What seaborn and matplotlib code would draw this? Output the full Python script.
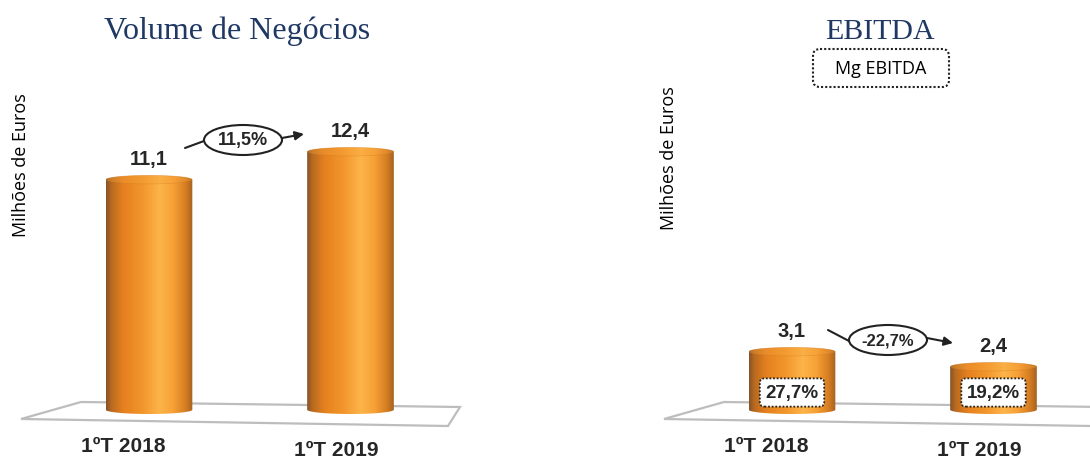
import numpy as np
import pandas as pd
import matplotlib
matplotlib.use("Agg")
import matplotlib.pyplot as plt
import seaborn as sns
from matplotlib.patches import Ellipse, FancyBboxPatch, Polygon, PathPatch, FancyArrowPatch, Rectangle
from matplotlib.path import Path
from matplotlib.lines import Line2D
from matplotlib.colors import LinearSegmentedColormap
from matplotlib.transforms import Affine2D

# ---------------- data ----------------
categories = ["1ºT 2018", "1ºT 2019"]
volume = [11.1, 12.4]
ebitda = [3.1, 2.4]
volume_labels = ["11,1", "12,4"]
ebitda_labels = ["3,1", "2,4"]
volume_change = "11,5%"
ebitda_change = "-22,7%"
ebitda_margin = ["27,7%", "19,2%"]
titles = ["Volume de Negócios", "EBITDA"]
y_label = "Milhões de Euros"
legend_label = "Mg EBITDA"

# ---------------- layout ----------------
W, H = 1090, 460
sns.set_theme(style="white")
plt.rcParams["font.family"] = ["Liberation Sans", "DejaVu Sans"]

fig = plt.figure(figsize=(W / 100, H / 100), dpi=100)
# pixel transform (origin top-left)
T = Affine2D().scale(1 / 100, -1 / 100).translate(0, H / 100) + fig.dpi_scale_trans

PX_X = 201.5      # pixels per category step
PX_Y = 21.5       # pixels per million euros
ZERO = 415        # pixel row of value 0
XL = (-0.7, 1.6)
YL = ((ZERO - H) / PX_Y, ZERO / PX_Y)
BAR_W = 0.43

cmap = LinearSegmentedColormap.from_list(
    "cyl",
    [(0.0, "#85522a"), (0.06, "#b86a20"), (0.2, "#e5811f"), (0.42, "#f2962c"),
     (0.62, "#fdb44a"), (0.78, "#f6a035"), (0.92, "#d57c22"), (1.0, "#a4621f")],
)
grad = np.linspace(0, 1, 256).reshape(1, -1)

TXT = "#262626"
NAVY = "#1f3864"


def make_ax(first_center_px):
    left = first_center_px + XL[0] * PX_X
    ax = fig.add_axes([left / W, 0, (XL[1] - XL[0]) * PX_X / W, 1])
    return ax


def cylinders(ax, bars):
    e = 0.2
    for p in bars:
        x0, w, h = p.get_x(), p.get_width(), p.get_height()
        p.set_alpha(0)
        xc = x0 + w / 2
        t_top = np.linspace(np.pi, 0, 60)
        t_bot = np.linspace(0, -np.pi, 60)
        top = np.c_[xc + w / 2 * np.cos(t_top), h - e + e * np.sin(t_top)]
        bot = np.c_[xc + w / 2 * np.cos(t_bot), e + e * np.sin(t_bot)]
        verts = np.vstack([top, bot, top[:1]])
        clip = PathPatch(Path(verts), transform=ax.transData, fc="none", ec="none")
        im = ax.imshow(grad, extent=[x0, x0 + w, -0.5, h + 0.5], aspect="auto",
                       cmap=cmap, zorder=3, interpolation="bilinear")
        im.set_clip_path(clip)
        ax.add_patch(Ellipse((xc, h - e), w * 0.99, 2 * e, fc="#f7a53c", ec="#c8741f",
                             lw=0.5, alpha=0.35, zorder=4))


def panel(first_center_px, values, value_labels):
    ax = make_ax(first_center_px)
    sns.barplot(x=categories, y=values, ax=ax, width=BAR_W, color="#f39a30")
    bars = [p for p in ax.patches if isinstance(p, Rectangle)]
    # floor
    dx = first_center_px - 149
    floor = [(21 + dx, 420), (81 + dx, 403), (460 + dx, 408), (448 + dx, 427)]
    ax.add_patch(Polygon(floor, closed=True, transform=T, fc="white", ec="#bdbdbd",
                         lw=1.6, zorder=1, clip_on=False))
    cylinders(ax, bars)
    for i, (v, lbl) in enumerate(zip(values, value_labels)):
        ax.annotate(lbl, (i, v), xytext=(0, 17), textcoords="offset pixels",
                    ha="center", va="center", fontsize=14.5, fontweight="bold",
                    color=TXT, zorder=6)
    label_off = [(-0.13, -1.45), (-0.07, -1.63)]
    for i, cat in enumerate(categories):
        ax.text(i + label_off[i][0], label_off[i][1], cat, ha="center", va="center",
                fontsize=15, fontweight="bold", color=TXT)
    ax.set_xlim(XL)
    ax.set_ylim(YL)
    ax.axis("off")
    ax.patch.set_alpha(0)
    return ax


ax1 = panel(149, volume, volume_labels)
ax2 = panel(792, ebitda, ebitda_labels)

# EBITDA margin boxes
for i, m in enumerate(ebitda_margin):
    ax2.text(i, 1.0, m, ha="center", va="center", fontsize=13.5, fontweight="bold",
             color=TXT, zorder=7,
             bbox=dict(boxstyle="round,pad=0.3,rounding_size=0.25", fc="white",
                       ec="#222222", ls=(0, (1, 1)), lw=1.3))

# titles
fig.text(237, 39, titles[0], transform=T, ha="center", va="baseline",
         family="Liberation Serif", fontsize=23, color=NAVY)
fig.text(880, 39, titles[1], transform=T, ha="center", va="baseline",
         family="Liberation Serif", fontsize=21.5, color=NAVY)

# y labels
for (x, y) in [(21, 165), (669, 158)]:
    fig.text(x, y, y_label, transform=T, rotation=90, ha="center", va="center",
             family=["Open Sans", "DejaVu Sans"], fontsize=13, color="black")

# legend box
fig.add_artist(FancyBboxPatch((813, 50), 136, 38, boxstyle="round,pad=0,rounding_size=7",
                              transform=T, fc="white", ec="#222222", ls=(0, (1, 1)), lw=1.5))
fig.text(881, 69, legend_label, transform=T, ha="center", va="center",
         family=["Open Sans", "DejaVu Sans"], fontsize=13, color="black")


# change ellipses with arrows
def change(center, label, start, end, fs):
    cx, cy = center
    fig.add_artist(Ellipse(center, 78, 30, transform=T, fc="white", ec="#222222", lw=1.5))
    fig.add_artist(Line2D([start[0], cx - 39], [start[1], cy + 1], transform=T,
                          color="#222222", lw=1.5))
    fig.add_artist(FancyArrowPatch((cx + 39, cy - 2), end, transform=T,
                                   arrowstyle="-|>", mutation_scale=13,
                                   color="#222222", lw=1.5, shrinkA=0, shrinkB=0))
    fig.text(cx, cy, label, transform=T, ha="center", va="center", fontsize=fs,
             fontweight="bold", color=TXT)


change((243, 141), volume_change, (185, 149), (304, 135), 13)
change((888, 341), ebitda_change, (828, 331), (953, 344), 12)

fig.savefig("out.png", dpi=100)
